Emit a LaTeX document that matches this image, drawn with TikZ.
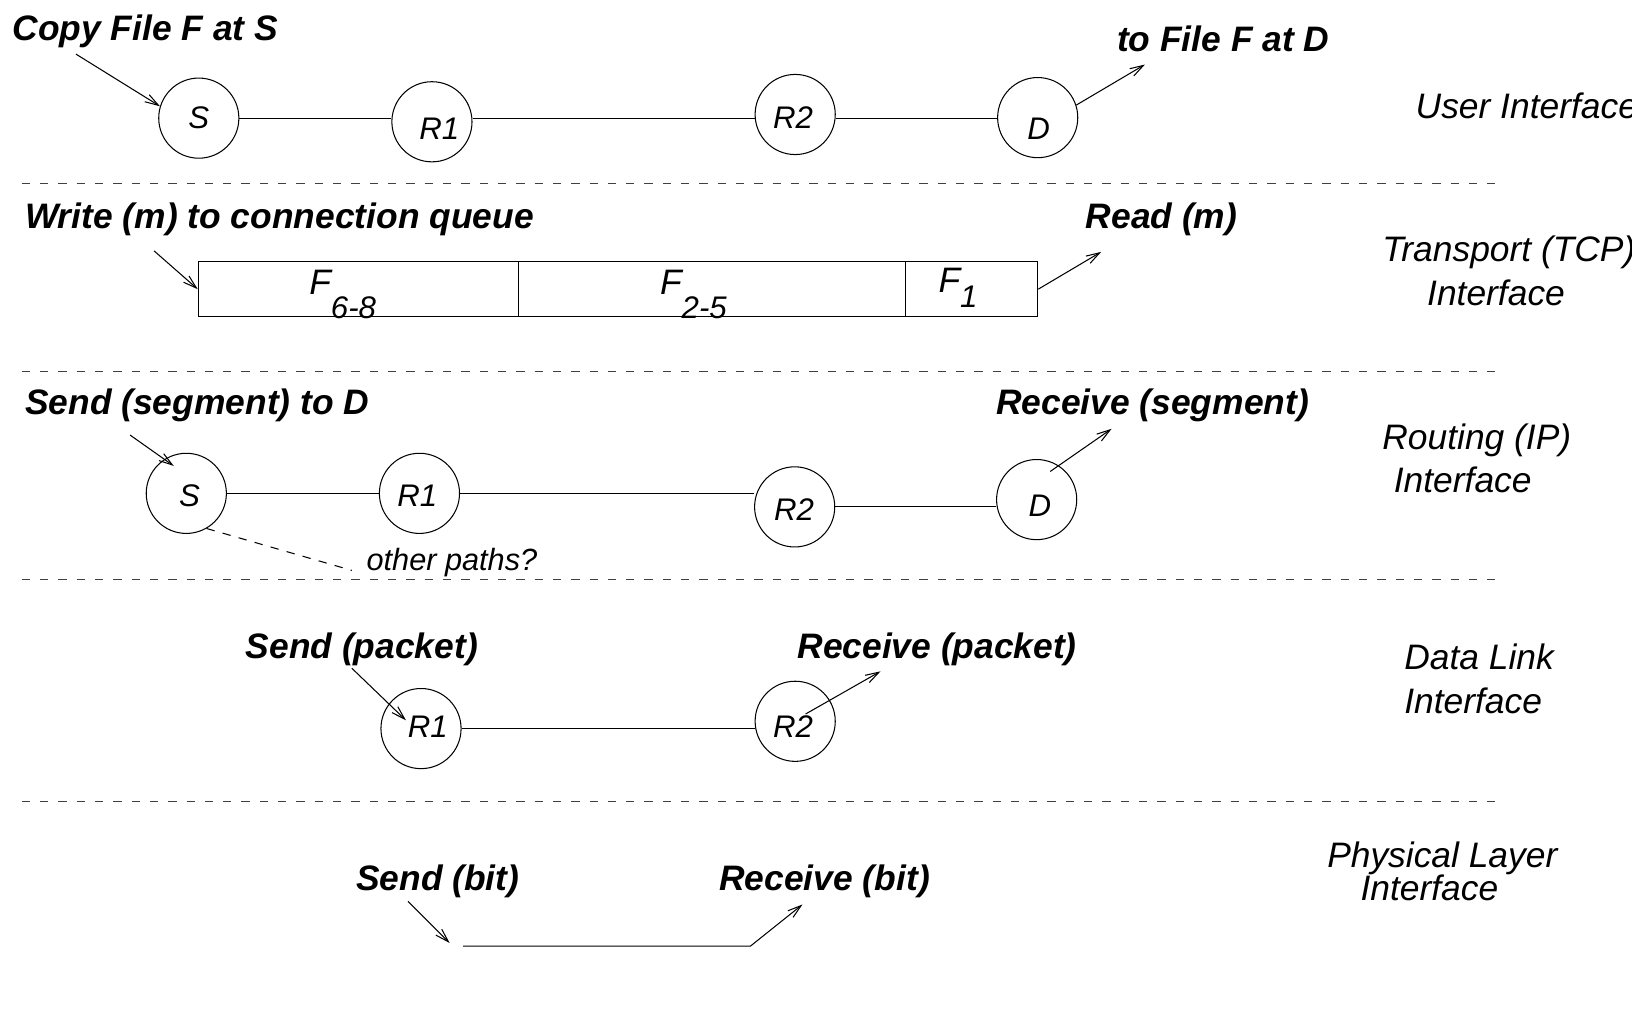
\documentclass[tikz,border=0pt]{standalone}
\usepackage{fontspec}
\setmainfont{Liberation Sans}
\usetikzlibrary{arrows.meta,calc}
\begin{document}
\begin{tikzpicture}[x=1pt,y=-1pt,
  lbl/.style={inner sep=0pt, anchor=base west, font=\fontsize{34}{37}\selectfont\itshape},
  blbl/.style={inner sep=0pt, anchor=base west, font=\fontsize{34}{37}\selectfont\bfseries\itshape},
  smlbl/.style={inner sep=0pt, anchor=base west, font=\fontsize{29.5}{32}\selectfont\itshape},
  ftxt/.style={inner sep=0pt, anchor=base west, font=\fontsize{34}{37}\selectfont\itshape},
  nd/.style={circle, draw, line width=1pt, minimum size=77pt, inner sep=0pt},
  ndtext/.style={inner sep=0pt, anchor=base, font=\fontsize{30}{32}\selectfont\itshape},
  link/.style={line width=1pt},
  arr/.style={line width=1pt, -{Straight Barb[length=13pt,width=8pt,line width=1pt]}},
  sep/.style={line width=1pt, dash pattern=on 8pt off 9.6pt, black!75},
  cell/.style={draw, line width=1pt, minimum height=53pt, inner sep=0pt}
]
\useasboundingbox (0,0) rectangle (1568,969);
\newcommand{\subtxt}[2]{\raisebox{-#1}{\fontsize{30}{32}\selectfont #2}}

% layer separators
\draw[sep] (20.8,176) -- (1440,176);
\draw[sep] (20.8,357) -- (1440,357);
\draw[sep] (20.8,557) -- (1440,557);
\draw[sep] (20.8,770) -- (1440,770);

% layer names
\node[lbl] (lUser) at (1360,113.5) {User Interface};
\node[lbl] (lTrans) at (1328,251.5) {Transport (TCP)};
\node[lbl] (lTransI) at (1371,293.5) {Interface};
\node[lbl] (lRout) at (1328,431.5) {Routing (IP)};
\node[lbl] (lRoutI) at (1339,473.5) {Interface};
\node[lbl] (lData) at (1349,643.5) {Data Link};
\node[lbl] (lDataI) at (1349,685.5) {Interface};
\node[lbl] (lPhys) at (1275,833.5) {Physical Layer};
\node[lbl] (lPhysI) at (1307,865.5) {Interface};

% ---------- User interface row
\node[blbl] (copy) at (12,38.5) {Copy File F at S};
\node[blbl] (tofile) at (1073,49.5) {to File F at D};
\node[nd] (S1) at (191,113.5) {};
\node[nd] (R1a) at (415,117) {};
\node[nd] (R2a) at (764,110) {};
\node[nd] (D1) at (997,113) {};
\node[ndtext] (tS1) at (191,123.5) {S};
\node[ndtext] (tR1a) at (422,134.5) {R1};
\node[ndtext] (tR2a) at (762,123.5) {R2};
\node[ndtext] (tD1) at (998,134.5) {D};
\draw[link] (S1.east) -- (S1.east -| R1a.west);
\draw[link] (S1.east -| R1a.east) -- (S1.east -| R2a.west);
\draw[link] (S1.east -| R2a.east) -- (S1.east -| D1.west);
\coordinate (copyS) at (73,52);
\coordinate (tofileE) at (1100,62);
\draw[arr] (copyS) -- (S1.163);
\draw[arr] (D1.18) -- (tofileE);

% ---------- Transport row
\node[blbl] (write) at (24,219.5) {Write (m) to connection queue};
\node[blbl] (read) at (1043,219.5) {Read (m)};
\node[cell, minimum width=307.5pt] (F68) at (344.25,277.85) {};
\node[cell, minimum width=372pt] (F25) at (684,277.85) {};
\node[cell, minimum width=127pt] (F1) at (933.5,277.85) {};
\node[ftxt] (tF68) at (297,283.4) {F\subtxt{22.4pt}{6-8}};
\node[ftxt] (tF25) at (634,283.4) {F\subtxt{22.4pt}{2-5}};
\node[ftxt] (tF1) at (901.5,281) {F\subtxt{14pt}{1}};
\coordinate (writeS) at (148,241);
\coordinate (readE) at (1058,242);
\draw[arr] (writeS) -- (F68.west);
\draw[arr] (F1.east) -- (readE);

% ---------- Routing row
\node[blbl] (sendseg) at (24,398.5) {Send (segment) to D};
\node[blbl] (recvseg) at (957,398.5) {Receive (segment)};
\node[nd] (S3) at (179,474) {};
\node[nd] (R1c) at (403,474) {};
\node[nd] (R2c) at (763.5,487) {};
\node[nd] (D3) at (996,480) {};
\node[ndtext] (tS3) at (182,486.7) {S};
\node[ndtext] (tR1c) at (401,486.7) {R1};
\node[ndtext] (tR2c) at (763,499.7) {R2};
\node[ndtext] (tD3) at (999,496.7) {D};
\draw[link] (S3.east) -- (R1c.west);
\draw[link] (R1c.east) -- (R1c.east -| R2c.west);
\draw[link] (R2c.east) -- (R2c.east -| D3.west);
\node[smlbl] (other) at (352,548) {other paths?};
\coordinate (otherE) at (338,548);
\draw[link, dash pattern=on 8pt off 8pt] (S3.-60) -- (otherE);
\coordinate (sendsegS) at (125,418);
\coordinate (recvsegE) at (1068,412);
\draw[arr] (sendsegS) -- ($(S3)+(-12,-26.3)$);
\draw[arr] ($(D3)+(13,-27)$) -- (recvsegE);

% ---------- Data link row
\node[blbl] (sendpk) at (236,632.5) {Send (packet)};
\node[blbl] (recvpk) at (766,632.5) {Receive (packet)};
\node[nd] (R1d) at (404.5,700) {};
\node[nd] (R2d) at (764,693) {};
\node[ndtext] (tR1d) at (411,708.7) {R1};
\node[ndtext] (tR2d) at (762,708.7) {R2};
\draw[link] (R1d.east) -- (R1d.east -| R2d.west);
\coordinate (sendpkS) at (338,642);
\coordinate (recvpkE) at (846,645);
\draw[arr] (sendpkS) -- ($(R1d)+(-14.5,-8)$);
\draw[arr] ($(R2d)+(10,-7)$) -- (recvpkE);

% ---------- Physical row
\node[blbl] (sendbit) at (342,855.5) {Send (bit)};
\node[blbl] (recvbit) at (691,855.5) {Receive (bit)};
\coordinate (sendbitS) at (392,866);
\coordinate (sendbitE) at (432,906);
\coordinate (wireA) at (445,909);
\coordinate (wireB) at (721,909);
\coordinate (recvbitE) at (771,869);
\draw[arr] (sendbitS) -- (sendbitE);
\draw[arr] (wireA) -- (wireB) -- (recvbitE);
\end{tikzpicture}
\end{document}
